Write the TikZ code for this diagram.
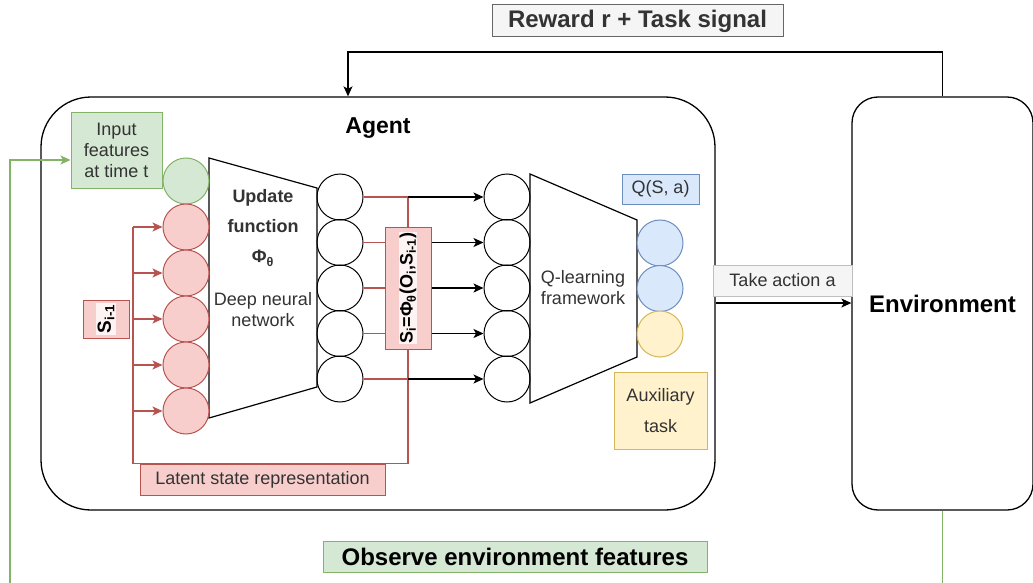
\documentclass[tikz,border=0pt]{standalone}
\usepackage{fontspec}
\setmainfont{Liberation Sans}
\usetikzlibrary{arrows.meta,backgrounds}
\definecolor{gfill}{HTML}{D5E8D4}\definecolor{gline}{HTML}{82B366}
\definecolor{rfill}{HTML}{F8CECC}\definecolor{rline}{HTML}{B85450}
\definecolor{bfill}{HTML}{DAE8FC}\definecolor{bline}{HTML}{6C8EBF}
\definecolor{yfill}{HTML}{FFF2CC}\definecolor{yline}{HTML}{D6B656}
\definecolor{kfill}{HTML}{F5F5F5}\definecolor{kline}{HTML}{666666}
\definecolor{dark}{HTML}{333333}
\tikzset{
  circ/.style={circle,draw,line width=1pt,minimum size=46pt,inner sep=0pt},
  txt/.style={font=\fontsize{18}{21}\selectfont,text=dark,align=center},
  bigtxt/.style={font=\bfseries\fontsize{24}{28}\selectfont},
  box/.style={draw,line width=1pt,inner sep=0pt,align=center},
  arr/.style={line width=1.2pt,-{Stealth[length=10pt,width=9pt,inset=2.5pt]}},
  redln/.style={draw=rline,line width=1.2pt},
}
\begin{document}
\begin{tikzpicture}[x=1pt,y=-1pt]
\clip (0,0) rectangle (1033,583);
% main boxes
\node[box,line width=1.3pt,rounded corners=50pt,minimum width=674pt,minimum height=413pt] (agent) at (378,303.5) {};
\node[font=\bfseries\fontsize{23}{26}\selectfont] (agentlbl) at (378,128) {Agent};
\node[box,line width=1.3pt,rounded corners=26pt,minimum width=181pt,minimum height=413pt,bigtxt] (env) at (942.5,303.5) {Environment};
% labels
\node[box,draw=kline,fill=kfill,text=dark,minimum width=291pt,minimum height=32pt,bigtxt] (rew) at (637.5,21) {Reward r + Task signal};
\node[box,draw=gline,fill=gfill,minimum width=384pt,minimum height=31pt,bigtxt] (obs) at (515,556.5) {Observe environment features};
\node[box,draw=gline,fill=gfill,minimum width=91pt,minimum height=75pt,txt] (inp) at (116.5,150.5) {Input\\features\\at time t};
% trapezoids
\draw[line width=1.2pt,fill=white] (209,158) -- (317,188) -- (317,387) -- (209,418) -- cycle;
\draw[line width=1.2pt,fill=white] (530,174) -- (637,220) -- (637,357) -- (530,403) -- cycle;
\node[txt,font=\bfseries\fontsize{18}{30}\selectfont,text=dark] (upd) at (263,228) {Update\\function\\Φ\textsubscript{θ}};
\node[txt] (dnn) at (263,310) {Deep neural\\network};
\node[txt] (qlf) at (583,288) {Q-learning\\framework};
% input circles
\node[circ,draw=gline,fill=gfill] (g) at (186,181) {};
\foreach \i/\y in {1/227,2/273,3/319,4/365,5/411}
  \node[circ,draw=rline,fill=rfill] (r\i) at (186,\y) {};
% hidden / output circles
\foreach \i/\y in {1/197,2/242.5,3/288,4/333.5,5/379}{
  \node[circ] (o\i) at (340,\y) {};
  \node[circ] (q\i) at (507,\y) {};
}
\node[circ,draw=bline,fill=bfill] (b1) at (660,243) {};
\node[circ,draw=bline,fill=bfill] (b2) at (660,288.5) {};
\node[circ,draw=yline,fill=yfill] (y1) at (660,334) {};
\node[box,draw=bline,fill=bfill,minimum width=77pt,minimum height=30pt,txt] (qsa) at (660.5,189) {Q(S, a)};
\node[box,draw=yline,fill=yfill,minimum width=93pt,minimum height=77pt,txt,font=\fontsize{18}{31}\selectfont] (aux) at (660.5,410.5) {Auxiliary\\task};
% latent boxes
\node[box,draw=rline,fill=rfill,minimum width=245pt,minimum height=31pt,txt] (lat) at (262.5,479.5) {Latent state representation};
\node[box,draw=rline,fill=rfill,minimum width=46pt,minimum height=38pt] (sprev) at (106,319) {};
\node[rotate=90,fill=white!75!rfill,inner sep=1.5pt,font=\bfseries\fontsize{19}{22}\selectfont] (sprevt) at (sprev.center) {S\textsubscript{i-1}};
\node[box,draw=rline,fill=rfill,minimum width=46pt,minimum height=122pt] (S) at (408,288) {};
\node[rotate=90,fill=white!75!rfill,inner sep=1pt,font=\bfseries\fontsize{18}{20}\selectfont] (St) at (S.center) {S\textsubscript{i}=Φ\textsubscript{θ}(O\textsubscript{i},S\textsubscript{i-1})};
% take action
\node[box,draw=black!25,fill=kfill,minimum width=139pt,minimum height=31pt,txt] (act) at (782.5,280.5) {Take action a};
% connectors
\coordinate (bx) at (133,0);
\coordinate (sx) at (408,0);
\coordinate (rx) at (348,0);
\coordinate (ry) at (0,52);
\coordinate (gx) at (10,0);
\coordinate (gy) at (0,600);
\coordinate (iy) at (0,160);
\coordinate (ay) at (0,303);
\begin{scope}[on background layer]
  \fill[white] (0,0) rectangle (1033,583);
  \draw[redln] (r1.west -| bx) -- (bx |- lat.north) -- (sx |- lat.north) -- (sx |- o1.east);
  \foreach \i in {1,...,5}{
    \draw[arr,draw=rline] (r\i.west -| bx) -- (r\i.west);
    \draw[redln] (o\i.east) -- (o\i.east -| sx);
    \draw[arr] (o\i.east -| sx) -- (q\i.west);
  }
\end{scope}
\draw[arr] (env.north) -- (env.north |- ry) -- (rx |- ry) -- (rx |- agent.north);
\draw[arr] (agent.east |- ay) -- (env.west |- ay);
\draw[arr,draw=gline] (env.south) -- (env.south |- gy) -- (gx |- gy) -- (gx |- iy) -- (inp.west |- iy);
\end{tikzpicture}
\end{document}
